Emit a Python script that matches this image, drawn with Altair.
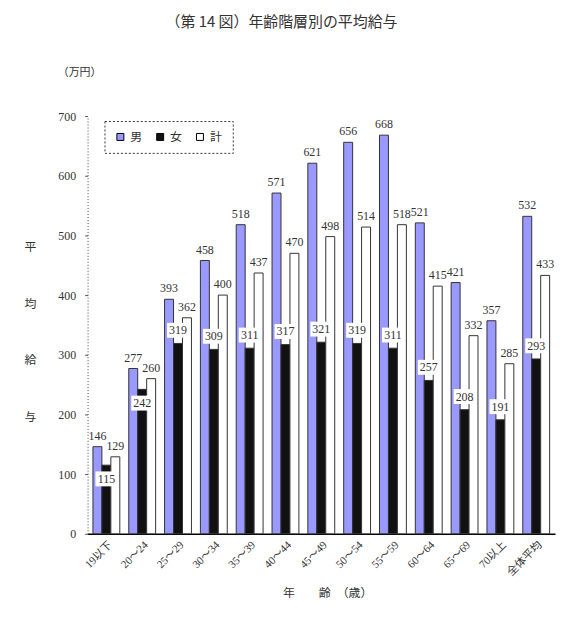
import altair as alt
import pandas as pd

# 年齢階層別の平均給与（万円）
ages = ["19以下", "20～24", "25～29", "30～34", "35～39", "40～44", "45～49",
        "50～54", "55～59", "60～64", "65～69", "70以上", "全体平均"]
male = [146, 277, 393, 458, 518, 571, 621, 656, 668, 521, 421, 357, 532]
female = [115, 242, 319, 309, 311, 317, 321, 319, 311, 257, 208, 191, 293]
total = [129, 260, 362, 400, 437, 470, 498, 514, 518, 415, 332, 285, 433]
series = ["男", "女", "計"]
y_ticks = [0, 100, 200, 300, 400, 500, 600, 700]

JP = "Noto Sans CJK JP"
NUM = "Liberation Serif"
MIX = "'Liberation Serif', 'Noto Sans CJK JP'"
INK = "#333333"

rows = []
for name, vals in zip(series, [male, female, total]):
    for i, (a, v) in enumerate(zip(ages, vals)):
        # 女の値ラベルは男の棒と近いときは棒の中へ下げる
        gap = male[i] - v
        rows.append({"age": a, "series": name, "value": v, "near": gap < 50})
df = pd.DataFrame(rows)

x_enc = alt.X("age:N", sort=ages, title="年　　齢　（歳）",
              scale=alt.Scale(paddingInner=0.25, paddingOuter=0.15),
              axis=alt.Axis(titleFont=JP, titleFontSize=12,
                            titleFontWeight="normal", titleColor=INK, titleY=59,
                            titleX=241, titleBaseline="middle", labelAngle=-45,
                            labelFont=MIX, labelFontSize=11, labelColor=INK,
                            labelPadding=5, ticks=False, domainColor="#000",
                            domainWidth=1.5))
xo_enc = alt.XOffset("series:N", sort=series,
                     scale=alt.Scale(domain=series, paddingInner=0, paddingOuter=0))
y_title = ["平", "均", "給", "与"]
y_enc = alt.Y("value:Q", scale=alt.Scale(domain=[0, 700], nice=False),
              title=y_title,
              axis=alt.Axis(values=y_ticks, grid=False,
                            titleAngle=0, titleX=-58, titleY=126, titleLineHeight=57,
                            titleAlign="center", titleBaseline="top", titleFont=JP,
                            titleFontSize=12, titleFontWeight="normal", titleColor=INK,
                            labelFont=NUM, labelFontSize=12, labelColor=INK,
                            labelPadding=9, tickSize=3, tickColor="#555",
                            domainColor="#444", domainDash=[1, 2]))

bars = alt.Chart(df).mark_bar(stroke="#333", strokeWidth=1).encode(
    x=x_enc,
    xOffset=xo_enc,
    y=y_enc,
    fill=alt.Fill("series:N",
                  scale=alt.Scale(domain=series, range=["#9999ff", "#111111", "#ffffff"]),
                  legend=alt.Legend(title=None, orient="none", legendX=17, legendY=5,
                                    direction="horizontal", symbolType="square",
                                    symbolSize=49, symbolStrokeColor="#000",
                                    symbolStrokeWidth=1, labelFont=JP, labelFontSize=12,
                                    labelColor=INK, labelOffset=4, columnPadding=11,
                                    padding=10)),
)

outer_labels = alt.Chart(df).transform_filter(
    alt.datum.series != "女"
).mark_text(font=NUM, fontSize=12, color=INK, baseline="bottom", dy=-4).encode(
    x=x_enc, xOffset=xo_enc, y=y_enc, text="value:Q"
)

female_rows = alt.Chart(df).transform_filter(
    alt.datum.series == "女"
).transform_calculate(
    pos="datum.near ? datum.value - 23 : datum.value + 22"
)
y_pos = alt.Y("pos:Q", scale=alt.Scale(domain=[0, 700], nice=False), title=y_title)

box_shape = "M-1.1,-0.75H1.1V0.75H-1.1Z"
female_boxes = female_rows.mark_point(shape=box_shape, size=400, filled=True,
                                      fill="#ffffff", opacity=1, strokeWidth=0).encode(
    x=x_enc, xOffset=xo_enc, y=y_pos
)
female_labels = female_rows.mark_text(font=NUM, fontSize=12, color=INK,
                                      baseline="middle").encode(
    x=x_enc, xOffset=xo_enc, y=y_pos, text="value:Q"
)

unit = alt.Chart(pd.DataFrame({"t": ["（万円）"]})).mark_text(
    font=JP, fontSize=11, color=INK
).encode(text="t:N", x=alt.value(-8), y=alt.value(-43))

chart = alt.layer(bars, outer_labels, female_boxes, female_labels, unit).properties(
    width=470,
    height=420,
    title=alt.TitleParams("（第 14 図）年齢階層別の平均給与", font=JP, fontSize=15,
                          fontWeight="normal", color=INK, anchor="middle", dx=-40,
                          offset=38),
    autosize=alt.AutoSizeParams(type="none"),
    padding={"left": 80, "top": 107, "right": 2, "bottom": 80},
).configure_view(stroke=None).configure_legend(
    strokeColor="#333", strokeDash=[2, 2], fillColor="#ffffff"
)

chart.save("out.html", embed_options={"renderer": "svg", "actions": False})
